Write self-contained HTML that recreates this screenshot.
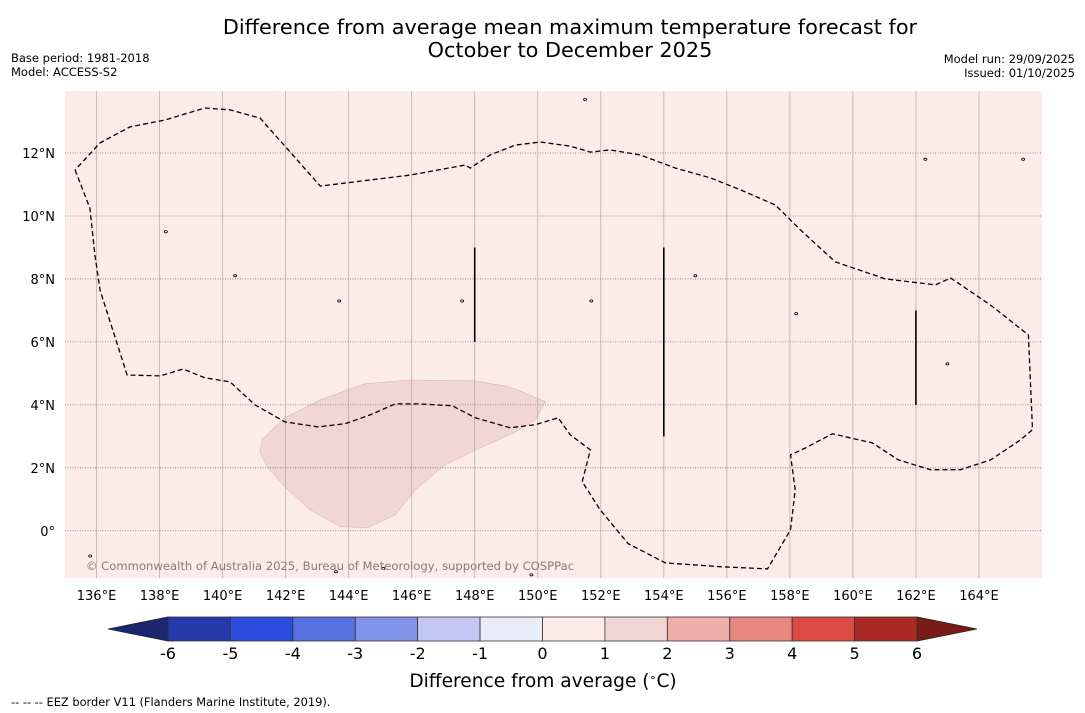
<!DOCTYPE html>
<html><head><meta charset="utf-8"><style>
body{margin:0;background:#fff;}
svg{display:block;font-family:"DejaVu Sans","Liberation Sans",sans-serif;}
</style></head><body>
<svg id="c" width="1085" height="713" viewBox="0 0 1085 713">
<text x="570" y="34" font-size="20.8" text-anchor="middle">Difference from average mean maximum temperature forecast for</text>
<text x="570" y="57" font-size="20.8" text-anchor="middle">October to December 2025</text>
<text x="11" y="62" font-size="11.5">Base period: 1981-2018</text>
<text x="11" y="76" font-size="11.5">Model: ACCESS-S2</text>
<text x="1075" y="63" font-size="11.5" text-anchor="end">Model run: 29/09/2025</text>
<text x="1075" y="77" font-size="11.5" text-anchor="end">Issued: 01/10/2025</text>
<g id="map"></g>
<g id="cbar"></g>
<text x="543" y="687" font-size="18.6" text-anchor="middle">Difference from average (<tspan baseline-shift="super" font-size="11">∘</tspan>C)</text>
<text x="11" y="706" font-size="11.4">--  --  -- EEZ border V11 (Flanders Marine Institute, 2019).</text>
</svg>
<script>
const lonTicks=[136,138,140,142,144,146,148,150,152,154,156,158,160,162,164];
const latTicks=[0,2,4,6,8,10,12];
const eezLon=[135.32,135.79,135.95,136.11,136.97,138.02,138.75,139.44,140.24,141.03,141.98,143.03,143.89,144.68,145.48,146.27,147.29,148.02,149.13,149.92,150.65,151.03,151.67,151.41,151.98,152.87,154.05,155.79,157.29,158.02,158.17,158.02,158.49,159.35,160.62,161.44,162.46,163.41,164.37,165.32,165.70,165.57,164.37,163.10,162.62,161.03,159.44,158.33,157.54,156.43,155.48,154.37,153.25,152.30,151.67,151.03,150.08,149.29,148.49,147.86,147.70,145.95,143.10,141.19,140.24,139.44,138.17,137.06,136.11,135.32];
const eezLat=[11.46,10.25,8.76,7.65,4.95,4.92,5.14,4.86,4.73,4.0,3.46,3.30,3.40,3.68,4.03,4.03,3.97,3.59,3.27,3.37,3.59,3.05,2.57,1.56,0.67,-0.41,-1.02,-1.14,-1.21,0.03,1.30,2.41,2.63,3.08,2.79,2.25,1.94,1.94,2.25,2.89,3.21,6.22,7.17,8.03,7.81,8.0,8.54,9.56,10.35,10.83,11.21,11.52,11.94,12.10,12.03,12.22,12.35,12.25,11.94,11.52,11.62,11.30,10.95,13.11,13.37,13.43,13.05,12.83,12.32,11.46];
const blobLon=[141.25,141.98,143.10,144.52,145.95,148.02,149.13,150.24,149.92,149.29,148.17,147.06,146.11,145.48,144.62,143.73,142.78,141.98,141.44,141.19];
const blobLat=[2.89,3.59,4.16,4.67,4.79,4.76,4.57,4.10,3.52,3.14,2.63,2.10,1.30,0.51,0.10,0.13,0.67,1.40,2.0,2.48];
const segLon=[148,154,162];
const segLat0=[6,3,4];
const segLat1=[9,9,7];
const islandLon=[138.2,140.4,143.7,147.6,151.7,155.0,158.2,163.0,162.3,165.4,151.5,135.8,143.6,145.1,149.8];
const islandLat=[9.5,8.1,7.3,7.3,7.3,8.1,6.9,5.3,11.8,11.8,13.7,-0.8,-1.3,-1.2,-1.4];
const cbVals=[-6,-5,-4,-3,-2,-1,0,1,2,3,4,5,6];
const cbColors=["#2639a8","#2d4ddf","#5770e0","#8193e9","#c2c8f3","#e9ebf8","#fbebe9","#f2d6d3","#eeafaa","#e78880","#db4b42","#aa2a23"];
const cbLow="#1a2770", cbHigh="#7a1b16";

const NS="http://www.w3.org/2000/svg";
const X0=65,X1=1042,Y0=91,Y1=578;
const lonMin=135,lonMax=166,latMin=-1.5,latMax=13.97;
const sx=l=>X0+(l-lonMin)/(lonMax-lonMin)*(X1-X0);
const sy=l=>Y1-(l-latMin)/(latMax-latMin)*(Y1-Y0);
function mk(tag,attrs,parent){const e=document.createElementNS(NS,tag);for(const k in attrs)e.setAttribute(k,attrs[k]);parent.appendChild(e);return e;}
const map=document.getElementById('map');
let r=mk('rect',{x:X0,y:Y0,width:X1-X0,height:Y1-Y0,fill:'#fbebe9'},map);


let bp=blobLon.map((l,i)=>(i?'L':'M')+sx(l).toFixed(1)+','+sy(blobLat[i]).toFixed(1)).join('')+'Z';
let b=mk('path',{d:bp,fill:'#f2d6d3',stroke:'#d9b8b4','stroke-width':0.6},map);


lonTicks.forEach(l=>{
 let g=mk('line',{x1:sx(l),x2:sx(l),y1:Y0,y2:Y1,stroke:'#999','stroke-width':0.8,opacity:0.7},map);
 
 
 let t=mk('text',{x:sx(l),y:Y1+22,'font-size':13,'text-anchor':'middle'},map);t.textContent=l+'°E';
 
 
});
latTicks.forEach(l=>{
 let g=mk('line',{x1:X0,x2:X1,y1:sy(l),y2:sy(l),stroke:'#777','stroke-width':0.8,'stroke-dasharray':'1,1.5'},map);
 
 
 let t=mk('text',{x:X0-10,y:sy(l)+5,'font-size':13,'text-anchor':'end'},map);t.textContent=l+'°'+(l>0?'N':'');
 
 
});
let ep=eezLon.map((l,i)=>(i?'L':'M')+sx(l).toFixed(1)+','+sy(eezLat[i]).toFixed(1)).join('');
let e=mk('path',{d:ep,fill:'none',stroke:'#000','stroke-width':1.3,'stroke-dasharray':'5,3'},map);


segLon.forEach((l,i)=>{
 let s=mk('line',{x1:sx(l),x2:sx(l),y1:sy(segLat0[i]),y2:sy(segLat1[i]),stroke:'#000','stroke-width':1.6},map);
 
 
});
islandLon.forEach((l,i)=>{
 let c=mk('ellipse',{cx:sx(l),cy:sy(islandLat[i]),rx:1.5,ry:1.1,fill:'none',stroke:'#000','stroke-width':0.8},map);
 
 
});
let cp=mk('text',{x:330,y:570,'font-size':11.6,'text-anchor':'middle',fill:'#8a7a7a'},map);
cp.textContent='© Commonwealth of Australia 2025, Bureau of Meteorology, supported by COSPPac';



const cb=document.getElementById('cbar');
const C0=168,C1=917,CY0=617,CY1=641;
const cx=v=>C0+(v-cbVals[0])/(cbVals[cbVals.length-1]-cbVals[0])*(C1-C0);
let lt=mk('polygon',{points:`${C0},${CY0} ${C0},${CY1} 108,${(CY0+CY1)/2}`,fill:cbLow,stroke:'#222','stroke-width':0.8},cb);


let rt=mk('polygon',{points:`${C1},${CY0} ${C1},${CY1} 977,${(CY0+CY1)/2}`,fill:cbHigh,stroke:'#222','stroke-width':0.8},cb);


cbColors.forEach((col,i)=>{
 let s=mk('rect',{x:cx(cbVals[i]),y:CY0,width:cx(cbVals[i+1])-cx(cbVals[i]),height:CY1-CY0,fill:col,stroke:'#333','stroke-width':0.8},cb);
 
 
});
cbVals.forEach(v=>{
 let t=mk('text',{x:cx(v),y:659,'font-size':16,'text-anchor':'middle'},cb);t.textContent=v;
 
 
});
</script>
</body></html>
